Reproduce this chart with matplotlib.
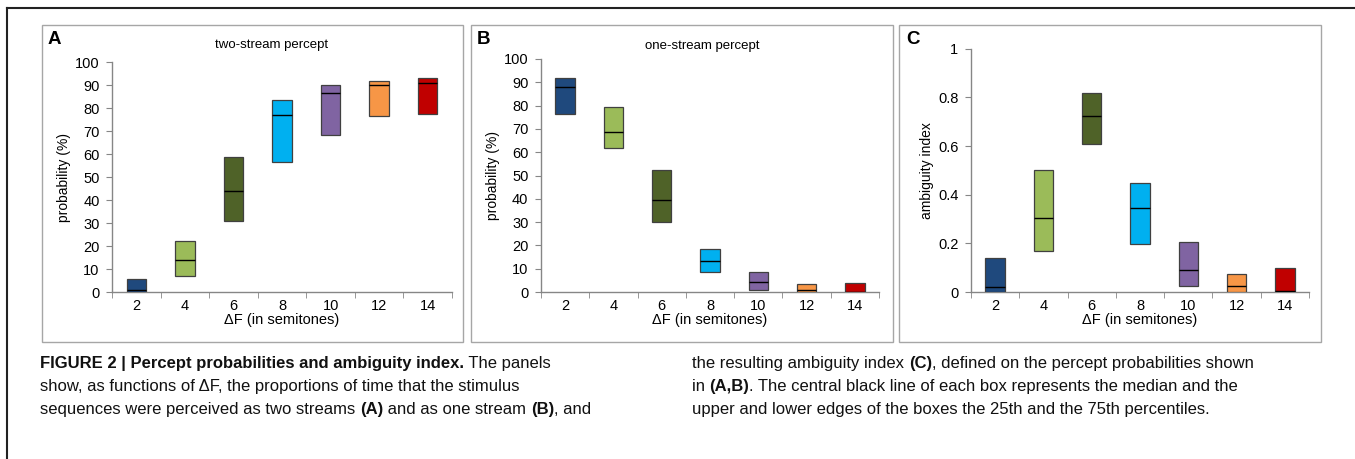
import matplotlib
matplotlib.use("Agg")
import matplotlib.pyplot as plt
from matplotlib.patches import Rectangle
from matplotlib.lines import Line2D
import numpy as np

plt.rcParams['font.family'] = ['Liberation Sans', 'DejaVu Sans']

# data: 25th pct, median, 75th pct per delta F
delta_f = ['2', '4', '6', '8', '10', '12', '14']
box_colors = ['#1F497D', '#9BBB59', '#4F6228', '#00B0F0', '#8064A2', '#F79646', '#C00000']

two_q1 = [0, 6.8, 30.7, 56.8, 68.5, 76.6, 77.5]
two_med = [1.0, 14.1, 44.0, 76.9, 86.8, 90.0, 90.8]
two_q3 = [5.8, 22.2, 58.9, 83.7, 90.3, 92.0, 93.2]

one_q1 = [76.4, 62.0, 30.2, 8.7, 1.0, 0, 0]
one_med = [87.8, 68.5, 39.4, 13.5, 4.3, 1.0, 0.0]
one_q3 = [91.8, 79.2, 52.4, 18.3, 8.7, 3.4, 3.9]

amb_q1 = [0, 0.169, 0.608, 0.199, 0.026, 0, 0]
amb_med = [0.022, 0.303, 0.724, 0.347, 0.092, 0.025, 0.004]
amb_q3 = [0.141, 0.50, 0.818, 0.449, 0.206, 0.074, 0.099]

W, H = 1355, 459
fig = plt.figure(figsize=(W / 100, H / 100), dpi=100)


def px(x0, y0, x1, y1):
    # pixel box (top-left origin) -> figure fraction rect
    return [x0 / W, 1 - y1 / H, (x1 - x0) / W, (y1 - y0) / H]


# outer page lines
fig.add_artist(Line2D([7 / W, 1], [1 - 8 / H, 1 - 8 / H], color='#222222', lw=1.5))
fig.add_artist(Line2D([7 / W, 7 / W], [0, 1 - 8 / H], color='#222222', lw=1.5))

# panel frames
for x0, x1 in [(42, 463), (471, 893), (899, 1321)]:
    r = px(x0, 25, x1, 342)
    fig.add_artist(Rectangle((r[0], r[1]), r[2], r[3], transform=fig.transFigure,
                             fill=False, edgecolor='#A6A6A6', lw=1))

spine_col = '#868686'


def box_panel(rect, q1, med, q3, ymax, yticks, ylabels, ylabel):
    ax = fig.add_axes(rect)
    x = np.arange(len(delta_f))
    q1 = np.array(q1)
    q3 = np.array(q3)
    med = np.array(med)
    ax.bar(x, q3 - q1, bottom=q1, width=0.4, color=box_colors,
           edgecolor='#404040', linewidth=0.9, zorder=3)
    ax.hlines(med, x - 0.2, x + 0.2, color='black', lw=1.0, zorder=4)
    ax.set_xlim(-0.5, len(delta_f) - 0.5)
    ax.set_ylim(0, ymax)
    ax.set_yticks(yticks)
    ax.set_yticklabels(ylabels)
    ax.set_xticks(x)
    ax.set_xticklabels(delta_f)
    ax.set_xticks(np.arange(len(delta_f) + 1) - 0.5, minor=True)
    ax.tick_params(axis='x', which='major', length=0, pad=5, labelsize=10.5)
    ax.tick_params(axis='x', which='minor', length=4, color=spine_col, direction='out')
    ax.tick_params(axis='y', length=4, color=spine_col, direction='out', labelsize=10.5, pad=5)
    for s in ['top', 'right']:
        ax.spines[s].set_visible(False)
    for s in ['left', 'bottom']:
        ax.spines[s].set_color(spine_col)
        ax.spines[s].set_linewidth(1)
    ax.set_xlabel('ΔF (in semitones)', fontsize=10.5, labelpad=0)
    ax.set_ylabel(ylabel, fontsize=10, labelpad=3)
    return ax


pct_ticks = list(range(0, 101, 10))
pct_labels = [str(t) for t in pct_ticks]
box_panel(px(112, 62.3, 452, 292), two_q1, two_med, two_q3, 100, pct_ticks, pct_labels, 'probability (%)')
box_panel(px(541, 59, 879, 292), one_q1, one_med, one_q3, 100, pct_ticks, pct_labels, 'probability (%)')
amb_ticks = [0, 0.2, 0.4, 0.6, 0.8, 1.0]
amb_labels = ['0', '0.2', '0.4', '0.6', '0.8', '1']
box_panel(px(971, 48.7, 1309, 292), amb_q1, amb_med, amb_q3, 1.0, amb_ticks, amb_labels, 'ambiguity index')

# panel letters and titles
for letter, xp in [('A', 48), ('B', 477), ('C', 906)]:
    fig.text(xp / W, 1 - 31 / H, letter, fontsize=13.5, fontweight='bold', va='top', ha='left')
fig.text(272 / W, 1 - 45 / H, 'two-stream percept', fontsize=9.5, ha='center', va='center')
fig.text(702 / W, 1 - 46 / H, 'one-stream percept', fontsize=9.5, ha='center', va='center')

# caption, drawn run by run so bold pieces sit inline
renderer = fig.canvas.get_renderer()


def caption_line(x_px, y_px, runs, size):
    x = x_px
    for txt, bold in runs:
        t = fig.text(x / W, 1 - y_px / H, txt, fontsize=size,
                     fontweight='bold' if bold else 'normal', va='baseline', ha='left',
                     color='#111111')
        x += t.get_window_extent(renderer).width


cap = 12
caption_line(40, 368, [('FIGURE 2 | Percept probabilities and ambiguity index.', True),
                       (' The panels', False)], cap)
caption_line(40, 391, [('show, as functions of ΔF, the proportions of time that the stimulus', False)], cap)
caption_line(40, 414, [('sequences were perceived as two streams ', False), ('(A)', True),
                       (' and as one stream ', False), ('(B)', True), (', and', False)], cap)
caption_line(692, 368, [('the resulting ambiguity index ', False), ('(C)', True),
                        (', defined on the percept probabilities shown', False)], cap)
caption_line(692, 391, [('in ', False), ('(A,B)', True),
                        ('. The central black line of each box represents the median and the', False)], cap)
caption_line(692, 414, [('upper and lower edges of the boxes the 25th and the 75th percentiles.', False)], cap)

fig.savefig('out.png', dpi=100)
